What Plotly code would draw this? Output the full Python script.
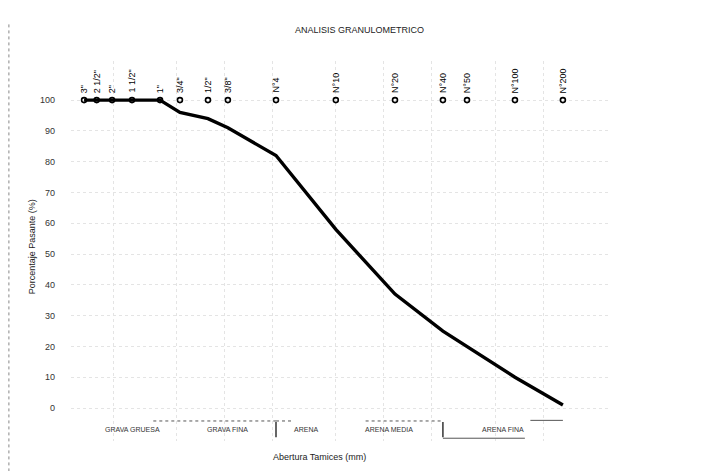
import numpy as np
import plotly.graph_objects as go

# Tamices (abertura en mm) y porcentaje pasante
tamices = ['3"', '2 1/2"', '2"', '1 1/2"', '1"', '3/4"', '1/2"', '3/8"',
           'N°4', 'N°10', 'N°20', 'N°40', 'N°50', 'N°100', 'N°200']
abertura = [76.2, 63.5, 50.8, 38.1, 25.4, 19.05, 12.7, 9.525,
            4.75, 2.0, 0.85, 0.425, 0.3, 0.15, 0.075]
pasante = [100, 100, 100, 100, 100, 96, 94, 91, 82, 58, 37, 25, 20, 10, 1]

# Clasificacion del suelo (limites en mm)
bandas = ['GRAVA GRUESA', 'GRAVA FINA', 'ARENA', 'ARENA MEDIA', 'ARENA FINA']
bandas_lim = [(76.2, 19.05), (19.05, 4.75), (4.75, 2.0), (2.0, 0.425), (0.425, 0.075)]

y_ticks = list(range(0, 101, 10))

fuente = "Liberation Sans, Arial, sans-serif"

fig = go.Figure()

# marcadores de tamices en 100 %
fig.add_trace(go.Scatter(
    x=abertura, y=[100] * len(abertura), mode="markers",
    marker=dict(symbol="circle-open", size=5, color="black", line=dict(width=1.6)),
    showlegend=False, hoverinfo="skip"))

# curva granulometrica
fig.add_trace(go.Scatter(
    x=abertura, y=pasante, mode="lines",
    line=dict(color="black", width=3.4),
    showlegend=False))

# etiquetas de tamices
for t, a in zip(tamices, abertura):
    fig.add_annotation(x=np.log10(a), y=100, text=t, textangle=-90,
                       showarrow=False, yanchor="bottom", yshift=5,
                       font=dict(size=9, color="black", family=fuente))

# bandas de clasificacion
for nombre, (a1, a2) in zip(bandas, bandas_lim):
    xc = (np.log10(a1) + np.log10(a2)) / 2
    fig.add_annotation(x=xc, y=-7, text=nombre, showarrow=False,
                       font=dict(size=7, color="#333333", family=fuente))
for a in [4.75, 0.425]:
    fig.add_shape(type="line", x0=a, x1=a, y0=-9.5, y1=-4.5,
                  line=dict(color="black", width=1.2))
for a1, a2, yy in [(28, 4.75, -4.2), (4.75, 3.7, -4.2), (1.3, 0.425, -4.2),
                   (0.12, 0.075, -4.0), (0.425, 0.13, -9.8)]:
    fig.add_shape(type="line", x0=a1, x1=a2, y0=yy, y1=yy,
                  line=dict(color="#555555", width=1, dash="dot" if yy > -5 and a1 > 1 else "solid"))

# bordes del escaneo
fig.add_shape(type="line", xref="paper", yref="paper", x0=-0.115, x1=-0.115, y0=-0.08, y1=1.1,
              line=dict(color="#888888", width=1, dash="dot"))
fig.add_shape(type="line", xref="paper", yref="paper", x0=-0.13, x1=1.17, y0=1.153, y1=1.153,
              line=dict(color="#999999", width=1, dash="dash"))

fig.update_layout(
    width=702, height=471,
    margin=dict(l=63, r=99, t=53, b=38),
    paper_bgcolor="white", plot_bgcolor="white",
    font=dict(family=fuente, size=9, color="black"),
    xaxis=dict(type="log", range=[1.964, -1.427], showticklabels=False,
               showgrid=True, gridcolor="#e4e4e4", griddash="dot",
               tickvals=[0.1, 0.2, 0.5, 1, 2, 5, 10, 20, 50],
               zeroline=False, showline=False, ticks=""),
    yaxis=dict(range=[-10.7, 112.7], tickvals=y_ticks,
               showgrid=True, gridcolor="#e4e4e4", griddash="dot",
               zeroline=False, showline=False, ticks="", ticklabelstandoff=15,
               tickfont=dict(size=9, color="#333333")),
    annotations=list(fig.layout.annotations) + [
        dict(text="ANALISIS GRANULOMETRICO", xref="paper", yref="paper",
             x=0.535, y=1.1, showarrow=False, font=dict(size=9, color="#222222")),
        dict(text="Abertura Tamices (mm)", xref="paper", yref="paper",
             x=0.46, y=-0.06, showarrow=False, font=dict(size=9, color="#222222")),
        dict(text="Porcentaje Pasante (%)", xref="paper", yref="paper", textangle=-90,
             x=-0.085, y=0.51, showarrow=False, font=dict(size=9, color="#222222")),
    ],
)

fig.write_html("out.html")
